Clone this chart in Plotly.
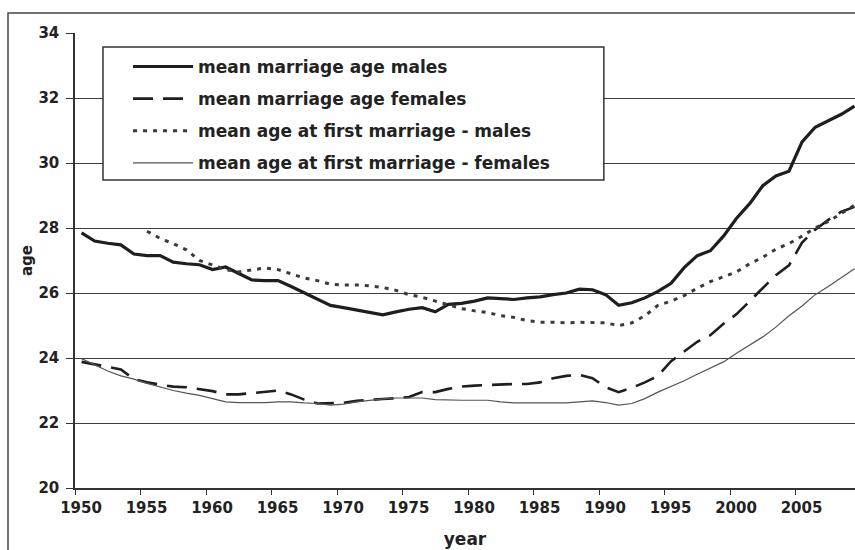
import plotly.graph_objects as go

years = list(range(1950, 2010))

marriage_age_males = [
    27.85, 27.6, 27.53, 27.48, 27.2, 27.15, 27.15, 26.95, 26.9, 26.87,
    26.72, 26.8, 26.6, 26.4, 26.38, 26.38, 26.2, 26.0, 25.8, 25.62,
    25.55, 25.48, 25.4, 25.33, 25.42, 25.5, 25.55, 25.42, 25.65, 25.68,
    25.75, 25.85, 25.83, 25.8, 25.85, 25.88, 25.95, 26.0, 26.12, 26.1,
    25.95, 25.62, 25.7, 25.85, 26.05, 26.3, 26.78, 27.15, 27.3, 27.75,
    28.3, 28.75, 29.3, 29.6, 29.75, 30.65, 31.1, 31.3, 31.5, 31.75,
]
marriage_age_females = [
    23.88, 23.8, 23.72, 23.65, 23.35, 23.25, 23.18, 23.12, 23.1, 23.05,
    22.98, 22.88, 22.88, 22.92, 22.95, 23.0, 22.88, 22.72, 22.6, 22.6,
    22.62, 22.68, 22.72, 22.74, 22.76, 22.8, 22.95, 22.95, 23.05, 23.12,
    23.15, 23.17, 23.18, 23.2, 23.2, 23.25, 23.38, 23.45, 23.48, 23.38,
    23.1, 22.95, 23.08, 23.25, 23.45, 23.9, 24.2, 24.5, 24.7, 25.05,
    25.35, 25.75, 26.15, 26.55, 26.85, 27.55, 27.95, 28.25, 28.5, 28.65,
]
first_marriage_males = [
    None, None, None, None, None, 27.9, 27.68, 27.52, 27.33, 27.0,
    26.85, 26.72, 26.65, 26.72, 26.77, 26.72, 26.58, 26.46, 26.38, 26.27,
    26.25, 26.25, 26.22, 26.17, 26.08, 25.95, 25.87, 25.75, 25.65, 25.52,
    25.45, 25.4, 25.3, 25.25, 25.15, 25.1, 25.1, 25.08, 25.1, 25.1,
    25.08, 25.0, 25.08, 25.3, 25.62, 25.75, 25.92, 26.15, 26.35, 26.5,
    26.65, 26.9, 27.1, 27.35, 27.52, 27.75, 28.0, 28.2, 28.45, 28.7,
]
first_marriage_females = [
    23.98, 23.8, 23.6, 23.45, 23.35, 23.22, 23.1, 23.0, 22.92, 22.85,
    22.75, 22.65, 22.63, 22.62, 22.63, 22.65, 22.65, 22.62, 22.6, 22.55,
    22.58, 22.65, 22.7, 22.74, 22.77, 22.77, 22.77, 22.72, 22.7, 22.7,
    22.7, 22.7, 22.65, 22.62, 22.62, 22.62, 22.62, 22.62, 22.65, 22.68,
    22.63, 22.55, 22.6, 22.75, 22.95, 23.12, 23.3, 23.5, 23.7, 23.88,
    24.15, 24.4, 24.65, 24.95, 25.3, 25.6, 25.95, 26.2, 26.48, 26.75,
]

tick_years = [1950, 1955, 1960, 1965, 1970, 1975, 1980, 1985, 1990, 1995, 2000, 2005]

fig = go.Figure()
fig.add_trace(go.Scatter(x=years, y=marriage_age_males, mode='lines', name='mean marriage age males',
                         legendgroup='a', line=dict(color='#1e1e1e', width=3.2)))
fig.add_trace(go.Scatter(x=years, y=marriage_age_females, mode='lines', name='mean marriage age females',
                         legendgroup='b', line=dict(color='#1e1e1e', width=2.6, dash='20px,10px')))
fig.add_trace(go.Scatter(x=years, y=first_marriage_males, mode='lines', name='mean age at first marriage - males',
                         legendgroup='c', line=dict(color='#3a3a3a', width=3, dash='4px,6px')))
fig.add_trace(go.Scatter(x=years, y=first_marriage_females, mode='lines', name='mean age at first marriage - females',
                         legendgroup='d', line=dict(color='#555555', width=1.2)))

fig.update_layout(
    width=855, height=550,
    margin=dict(l=75, r=0, t=33, b=62),
    paper_bgcolor='white',
    plot_bgcolor='white',
    font=dict(family='DejaVu Sans', color='#222222', size=15, weight='bold'),
    showlegend=True,
    legend=dict(
        x=0.068, y=0.965, xanchor='left', yanchor='top',
        bgcolor='rgba(0,0,0,0)', borderwidth=0,
        font=dict(family='DejaVu Sans', size=17, color='#222222', weight='bold'),
        tracegroupgap=7, itemwidth=60,
    ),
)

fig.update_xaxes(
    range=[1949.5, 2009.04],
    tickvals=[y - 0.5 for y in tick_years],
    ticktext=[str(y) for y in tick_years],
    ticks='outside', ticklen=5, tickcolor='#333333',
    ticklabelshift=6,
    showgrid=False, zeroline=False,
    showline=True, linecolor='#333333', linewidth=1.5,
    tickfont=dict(size=15),
    title=dict(text='year', font=dict(size=17), standoff=17),
)
fig.update_yaxes(
    range=[20, 34],
    dtick=2,
    ticks='outside', ticklen=7, tickcolor='#333333',
    ticklabelstandoff=4,
    showgrid=True, gridcolor='#3c3c3c', gridwidth=1,
    zeroline=False,
    showline=True, linecolor='#333333', linewidth=1.5,
    tickfont=dict(size=15),
    title=dict(text='age', font=dict(size=15), standoff=2),
)

# legend box drawn as a shape so it can be wider than the legend text
fig.add_shape(type='rect', xref='paper', yref='paper',
              x0=0.0359, x1=0.678, y0=0.677, y1=0.969,
              fillcolor='white', line=dict(color='#333333', width=1.5), layer='above')
# outer chart frame
fig.add_shape(type='rect', xref='paper', yref='paper',
              x0=-0.0859, x1=1.02, y0=-0.14, y1=1.044,
              line=dict(color='#444444', width=1.5), layer='below')

# drop the default body margin so the figure fills the window exactly
fig.write_html("out.html", config={'displayModeBar': False},
               post_script="document.body.style.margin='0';document.body.style.overflow='hidden';")
